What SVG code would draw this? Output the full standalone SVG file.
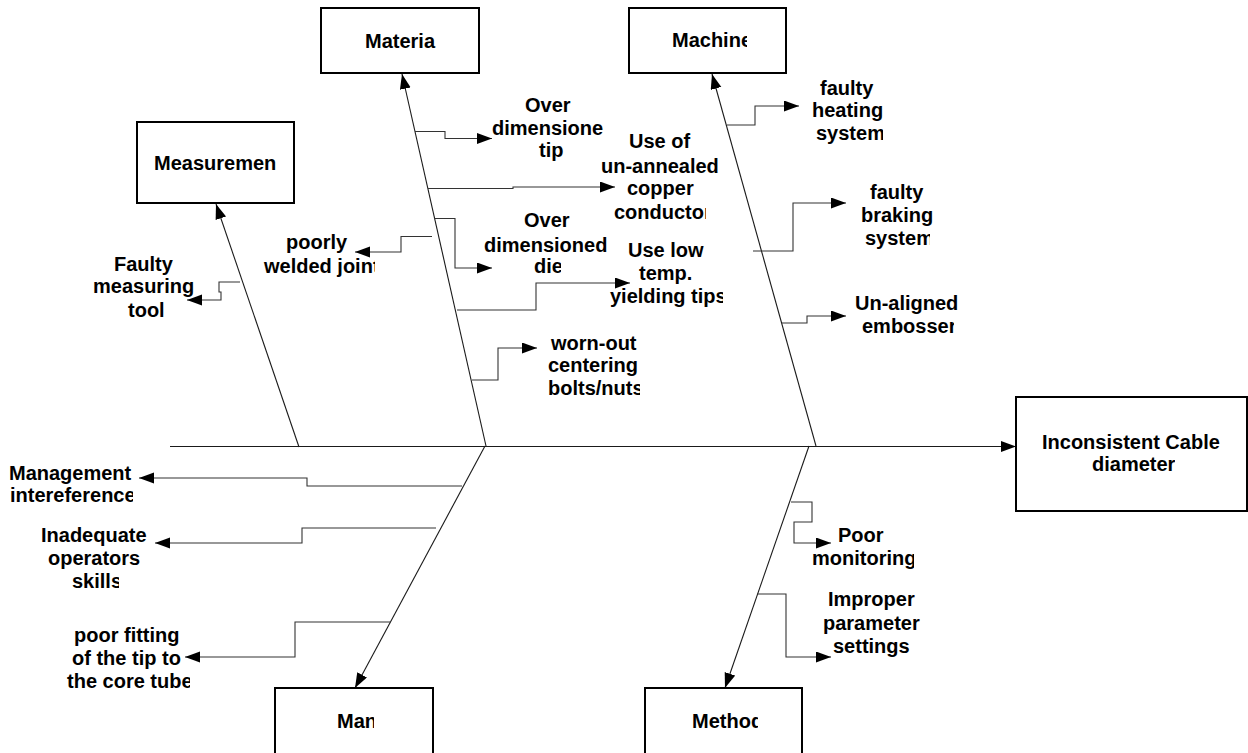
<svg xmlns="http://www.w3.org/2000/svg" width="1248" height="753" viewBox="0 0 1248 753">
<style>
.box{fill:#fff;stroke:#000;stroke-width:2}
.bone{fill:none;stroke:#1a1a1a;stroke-width:1.1;marker-end:url(#ah)}
.br{fill:none;stroke:#333;stroke-width:1.1;marker-end:url(#ah)}
.lbl{font-family:"Liberation Sans",Arial,Helvetica,sans-serif;font-weight:bold;font-size:20px;fill:#000}
</style>
<defs>
<marker id="ah" markerUnits="userSpaceOnUse" markerWidth="16" markerHeight="12" refX="15" refY="5.5" orient="auto"><path d="M0,0 L15,5.5 L0,11 z" fill="#000"/></marker>
<clipPath id="cMachine"><rect x="0" y="0" width="747" height="753"/></clipPath>
<clipPath id="cMan"><rect x="0" y="0" width="374" height="753"/></clipPath>
<clipPath id="cMethod"><rect x="0" y="0" width="758" height="753"/></clipPath>
<clipPath id="cDiam"><rect x="0" y="0" width="1175" height="753"/></clipPath>
<clipPath id="cCond"><rect x="0" y="0" width="706" height="753"/></clipPath>
<clipPath id="cDie"><rect x="0" y="0" width="561" height="753"/></clipPath>
<clipPath id="cYield"><rect x="0" y="0" width="723" height="753"/></clipPath>
<clipPath id="cBolts"><rect x="0" y="0" width="640" height="753"/></clipPath>
<clipPath id="cJoint"><rect x="0" y="0" width="375" height="753"/></clipPath>
<clipPath id="cSys1"><rect x="0" y="0" width="883" height="753"/></clipPath>
<clipPath id="cSys2"><rect x="0" y="0" width="930" height="753"/></clipPath>
<clipPath id="cEmb"><rect x="0" y="0" width="954" height="753"/></clipPath>
<clipPath id="cMgmt"><rect x="0" y="0" width="134" height="753"/></clipPath>
<clipPath id="cInter"><rect x="0" y="0" width="133" height="753"/></clipPath>
<clipPath id="cSkills"><rect x="0" y="0" width="119" height="753"/></clipPath>
<clipPath id="cTube"><rect x="0" y="0" width="190" height="753"/></clipPath>
<clipPath id="cMon"><rect x="0" y="0" width="914" height="753"/></clipPath>
<clipPath id="cParam"><rect x="0" y="0" width="922" height="753"/></clipPath>
<clipPath id="cSet"><rect x="0" y="0" width="911" height="753"/></clipPath>
</defs>
<rect width="1248" height="753" fill="#fff"/>

<g id="connectors">
<path class="bone" d="M170,446.5 H1016"/>
<path class="bone" d="M486,446 L402,74"/>
<path class="bone" d="M816,446 L712,74"/>
<path class="bone" d="M299,447 L216,204"/>
<path class="bone" d="M485,446 L355,688"/>
<path class="bone" d="M809,446 L725,688"/>
<path class="br" d="M415,131.5 H445 V138.5 H492"/>
<path class="br" d="M428,188.5 H513 V187 H615"/>
<path class="br" d="M434,218.5 H455 V268 H492"/>
<path class="br" d="M457,310 H536 V283 H630"/>
<path class="br" d="M472,380 H498 V348 H537"/>
<path class="br" d="M432,236.5 H401 V252 H355"/>
<path class="br" d="M727,125 H755 V106 H799"/>
<path class="br" d="M753,251 H793 V203 H846"/>
<path class="br" d="M782,323 H807 V316 H846"/>
<path class="br" d="M240,282 H219 V292 H221 V300 H187"/>
<path class="br" d="M462,486 H307 V478 H139"/>
<path class="br" d="M436,528 H302 V543 H155"/>
<path class="br" d="M390,622 H295 V657 H185"/>
<path class="br" d="M791,502 H812 V522 H794 V543 H831"/>
<path class="br" d="M757,594 H786 V657 H831"/>
</g>

<g id="node-material">
<rect class="box" x="321" y="8" width="158" height="65"/>
<text class="lbl" x="365" y="48">Materia</text>
</g>
<g id="node-machine">
<rect class="box" x="629" y="8" width="157" height="65"/>
<text class="lbl" x="672" y="47" clip-path="url(#cMachine)">Machine</text>
</g>
<g id="node-measurement">
<rect class="box" x="137" y="122" width="157" height="81"/>
<text class="lbl" x="154" y="170">Measuremen</text>
</g>
<g id="node-man">
<rect class="box" x="275" y="688" width="158" height="90"/>
<text class="lbl" x="337" y="728" clip-path="url(#cMan)">Man</text>
</g>
<g id="node-method">
<rect class="box" x="645" y="688" width="157" height="90"/>
<text class="lbl" x="692" y="728" clip-path="url(#cMethod)">Method</text>
</g>
<g id="node-effect">
<rect class="box" x="1016" y="397" width="231" height="114"/>
<text class="lbl" x="1042" y="449">Inconsistent Cable</text>
<text class="lbl" x="1092" y="471" clip-path="url(#cDiam)">diameter</text>
</g>

<g id="cause-over-tips">
<text class="lbl" x="525" y="112">Over</text>
<text class="lbl" x="492" y="135">dimensione</text>
<text class="lbl" x="539" y="157">tip</text>
</g>
<g id="cause-unannealed">
<text class="lbl" x="629" y="148">Use of</text>
<text class="lbl" x="601" y="173">un-annealed</text>
<text class="lbl" x="627" y="195">copper</text>
<text class="lbl" x="614" y="219" clip-path="url(#cCond)">conductor</text>
</g>
<g id="cause-over-die">
<text class="lbl" x="524" y="227">Over</text>
<text class="lbl" x="484" y="252">dimensioned</text>
<text class="lbl" x="534" y="273" clip-path="url(#cDie)">die</text>
</g>
<g id="cause-lowtemp">
<text class="lbl" x="628" y="257">Use low</text>
<text class="lbl" x="639" y="280">temp.</text>
<text class="lbl" x="610" y="303" clip-path="url(#cYield)">yielding tips</text>
</g>
<g id="cause-wornout">
<text class="lbl" x="551" y="350">worn-out</text>
<text class="lbl" x="548" y="372">centering</text>
<text class="lbl" x="548" y="395" clip-path="url(#cBolts)">bolts/nuts</text>
</g>
<g id="cause-welded">
<text class="lbl" x="286" y="249">poorly</text>
<text class="lbl" x="264" y="273" clip-path="url(#cJoint)">welded joint</text>
</g>
<g id="cause-heating">
<text class="lbl" x="820" y="95">faulty</text>
<text class="lbl" x="812" y="117">heating</text>
<text class="lbl" x="816" y="140" clip-path="url(#cSys1)">system</text>
</g>
<g id="cause-braking">
<text class="lbl" x="870" y="199">faulty</text>
<text class="lbl" x="861" y="222">braking</text>
<text class="lbl" x="865" y="245" clip-path="url(#cSys2)">system</text>
</g>
<g id="cause-embosser">
<text class="lbl" x="855" y="310">Un-aligned</text>
<text class="lbl" x="862" y="333" clip-path="url(#cEmb)">embosser</text>
</g>
<g id="cause-measuring">
<text class="lbl" x="114" y="271">Faulty</text>
<text class="lbl" x="93" y="293">measuring</text>
<text class="lbl" x="128" y="317">tool</text>
</g>
<g id="cause-management">
<text class="lbl" x="9" y="480" clip-path="url(#cMgmt)">Management</text>
<text class="lbl" x="10" y="502" clip-path="url(#cInter)">intereference</text>
</g>
<g id="cause-skills">
<text class="lbl" x="41" y="542">Inadequate</text>
<text class="lbl" x="48" y="565">operators</text>
<text class="lbl" x="72" y="588" clip-path="url(#cSkills)">skills</text>
</g>
<g id="cause-fitting">
<text class="lbl" x="74" y="642">poor fitting</text>
<text class="lbl" x="72" y="665">of the tip to</text>
<text class="lbl" x="67" y="688" clip-path="url(#cTube)">the core tube</text>
</g>
<g id="cause-monitoring">
<text class="lbl" x="838" y="542">Poor</text>
<text class="lbl" x="812" y="565" clip-path="url(#cMon)">monitoring</text>
</g>
<g id="cause-parameters">
<text class="lbl" x="828" y="606">Improper</text>
<text class="lbl" x="823" y="630" clip-path="url(#cParam)">parameter</text>
<text class="lbl" x="833" y="653" clip-path="url(#cSet)">settings</text>
</g>
</svg>
